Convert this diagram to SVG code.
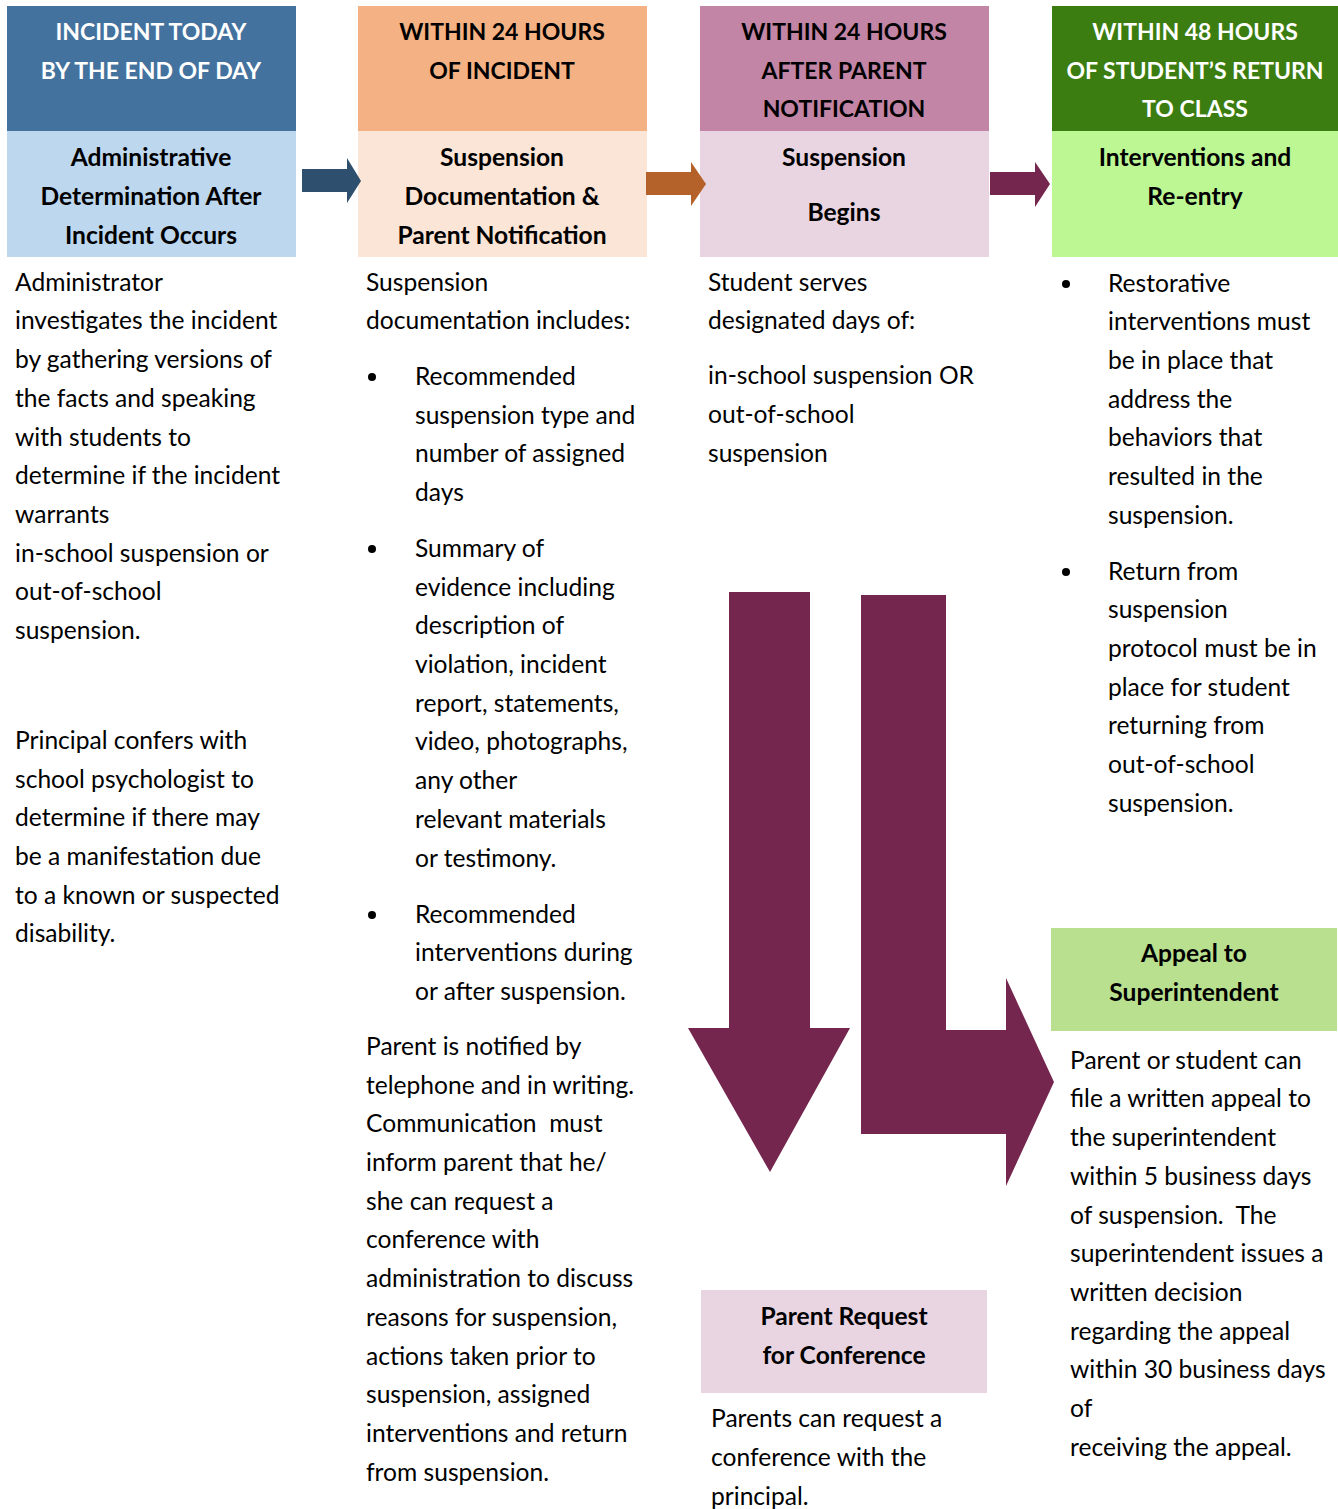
<svg xmlns="http://www.w3.org/2000/svg" width="1338" height="1509" viewBox="0 0 1338 1509">
<style>
text{font-family:Lato,"Open Sans","Liberation Sans",sans-serif;}
.b{font-size:24.6px;fill:#000;}
.h{font-size:24.6px;font-weight:bold;text-anchor:middle;}
.u{font-size:23px;}
.w{fill:#fff;}
.k{fill:#000;}
</style>
<rect width="1338" height="1509" fill="#fff"/>
<g id="col1">
<rect x="7" y="6" width="289" height="125" fill="#44729E"/>
<rect x="7" y="131" width="289" height="126" fill="#BDD7EE"/>
<text class="h u w" x="151" y="40">INCIDENT TODAY</text>
<text class="h u w" x="151" y="79">BY THE END OF DAY</text>
<text class="h k" x="151" y="166">Administrative</text>
<text class="h k" x="151" y="205">Determination After</text>
<text class="h k" x="151" y="244">Incident Occurs</text>
<text class="b" x="15" y="291">Administrator</text>
<text class="b" x="15" y="329">investigates the incident</text>
<text class="b" x="15" y="368">by gathering versions of</text>
<text class="b" x="15" y="407">the facts and speaking</text>
<text class="b" x="15" y="446">with students to</text>
<text class="b" x="15" y="484">determine if the incident</text>
<text class="b" x="15" y="523">warrants</text>
<text class="b" x="15" y="562">in-school suspension or</text>
<text class="b" x="15" y="600">out-of-school</text>
<text class="b" x="15" y="639">suspension.</text>
<text class="b" x="15" y="749">Principal confers with</text>
<text class="b" x="15" y="788">school psychologist to</text>
<text class="b" x="15" y="826">determine if there may</text>
<text class="b" x="15" y="865">be a manifestation due</text>
<text class="b" x="15" y="904">to a known or suspected</text>
<text class="b" x="15" y="942">disability.</text>
</g>
<g id="col2">
<rect x="358" y="6" width="289" height="125" fill="#F4B183"/>
<rect x="358" y="131" width="289" height="126" fill="#FBE5D6"/>
<text class="h u k" x="502" y="40">WITHIN 24 HOURS</text>
<text class="h u k" x="502" y="79">OF INCIDENT</text>
<text class="h k" x="502" y="166">Suspension</text>
<text class="h k" x="502" y="205">Documentation &amp;</text>
<text class="h k" x="502" y="244">Parent Notification</text>
<text class="b" x="366" y="291">Suspension</text>
<text class="b" x="366" y="329">documentation includes:</text>
<circle cx="372" cy="377" r="4" fill="#000"/>
<circle cx="372" cy="549" r="4" fill="#000"/>
<circle cx="372" cy="915" r="4" fill="#000"/>
<text class="b" x="415" y="385">Recommended</text>
<text class="b" x="415" y="424">suspension type and</text>
<text class="b" x="415" y="462">number of assigned</text>
<text class="b" x="415" y="501">days</text>
<text class="b" x="415" y="557">Summary of</text>
<text class="b" x="415" y="596">evidence including</text>
<text class="b" x="415" y="634">description of</text>
<text class="b" x="415" y="673">violation, incident</text>
<text class="b" x="415" y="712">report, statements,</text>
<text class="b" x="415" y="750">video, photographs,</text>
<text class="b" x="415" y="789">any other</text>
<text class="b" x="415" y="828">relevant materials</text>
<text class="b" x="415" y="867">or testimony.</text>
<text class="b" x="415" y="923">Recommended</text>
<text class="b" x="415" y="961">interventions during</text>
<text class="b" x="415" y="1000">or after suspension.</text>
<text class="b" x="366" y="1055">Parent is notified by</text>
<text class="b" x="366" y="1094">telephone and in writing.</text>
<text class="b" x="366" y="1132" xml:space="preserve">Communication  must</text>
<text class="b" x="366" y="1171">inform parent that he/</text>
<text class="b" x="366" y="1210">she can request a</text>
<text class="b" x="366" y="1248">conference with</text>
<text class="b" x="366" y="1287">administration to discuss</text>
<text class="b" x="366" y="1326">reasons for suspension,</text>
<text class="b" x="366" y="1365">actions taken prior to</text>
<text class="b" x="366" y="1403">suspension, assigned</text>
<text class="b" x="366" y="1442">interventions and return</text>
<text class="b" x="366" y="1481">from suspension.</text>
</g>
<g id="col3">
<rect x="700" y="6" width="289" height="125" fill="#C285A5"/>
<rect x="700" y="131" width="289" height="126" fill="#E9D5E1"/>
<text class="h u k" x="844" y="40">WITHIN 24 HOURS</text>
<text class="h u k" x="844" y="79">AFTER PARENT</text>
<text class="h u k" x="844" y="117">NOTIFICATION</text>
<text class="h k" x="844" y="166">Suspension</text>
<text class="h k" x="844" y="221">Begins</text>
<text class="b" x="708" y="291">Student serves</text>
<text class="b" x="708" y="329">designated days of:</text>
<text class="b" x="708" y="384">in-school suspension OR</text>
<text class="b" x="708" y="423">out-of-school</text>
<text class="b" x="708" y="462">suspension</text>
</g>
<g id="col4">
<rect x="1052" y="6" width="286" height="125" fill="#3B7D10"/>
<rect x="1052" y="131" width="286" height="126" fill="#BDF794"/>
<text class="h u w" x="1195" y="40">WITHIN 48 HOURS</text>
<text class="h u w" x="1195" y="79">OF STUDENT’S RETURN</text>
<text class="h u w" x="1195" y="117">TO CLASS</text>
<text class="h k" x="1195" y="166">Interventions and</text>
<text class="h k" x="1195" y="205">Re-entry</text>
<circle cx="1066" cy="284" r="4" fill="#000"/>
<circle cx="1066" cy="572" r="4" fill="#000"/>
<text class="b" x="1108" y="292">Restorative</text>
<text class="b" x="1108" y="330">interventions must</text>
<text class="b" x="1108" y="369">be in place that</text>
<text class="b" x="1108" y="408">address the</text>
<text class="b" x="1108" y="446">behaviors that</text>
<text class="b" x="1108" y="485">resulted in the</text>
<text class="b" x="1108" y="524">suspension.</text>
<text class="b" x="1108" y="580">Return from</text>
<text class="b" x="1108" y="618">suspension</text>
<text class="b" x="1108" y="657">protocol must be in</text>
<text class="b" x="1108" y="696">place for student</text>
<text class="b" x="1108" y="734">returning from</text>
<text class="b" x="1108" y="773">out-of-school</text>
<text class="b" x="1108" y="812">suspension.</text>
</g>
<g id="conference">
<rect x="701" y="1290" width="286" height="103" fill="#E9D5E1"/>
<text class="h k" x="844" y="1325">Parent Request</text>
<text class="h k" x="844" y="1364">for Conference</text>
<text class="b" x="711" y="1427">Parents can request a</text>
<text class="b" x="711" y="1466">conference with the</text>
<text class="b" x="711" y="1505">principal.</text>
</g>
<g id="appeal">
<rect x="1051" y="928" width="286" height="103" fill="#B8E08E"/>
<text class="h k" x="1194" y="962">Appeal to</text>
<text class="h k" x="1194" y="1001">Superintendent</text>
<text class="b" x="1070" y="1069">Parent or student can</text>
<text class="b" x="1070" y="1107">file a written appeal to</text>
<text class="b" x="1070" y="1146">the superintendent</text>
<text class="b" x="1070" y="1185">within 5 business days</text>
<text class="b" x="1070" y="1224" xml:space="preserve">of suspension.  The</text>
<text class="b" x="1070" y="1262">superintendent issues a</text>
<text class="b" x="1070" y="1301">written decision</text>
<text class="b" x="1070" y="1340">regarding the appeal</text>
<text class="b" x="1070" y="1378">within 30 business days</text>
<text class="b" x="1070" y="1417">of</text>
<text class="b" x="1070" y="1456">receiving the appeal.</text>
</g>
<g id="connectors">
<polygon points="302,169 347,169 347,158 361,181 347,203 347,192 302,192" fill="#2E4F6E"/>
<polygon points="646,172 691,172 691,162 706,184 691,206 691,195 646,195" fill="#B5612A"/>
<polygon points="990,172 1035,172 1035,162 1050,184 1035,207 1035,195 990,195" fill="#74264F"/>
<polygon points="729,592 810,592 810,1028 850,1028 770,1172 688,1028 729,1028" fill="#74264F"/>
<polygon points="861,595 946,595 946,1030 1006,1030 1006,978 1054,1082 1006,1186 1006,1134 861,1134" fill="#74264F"/>
</g>
</svg>
